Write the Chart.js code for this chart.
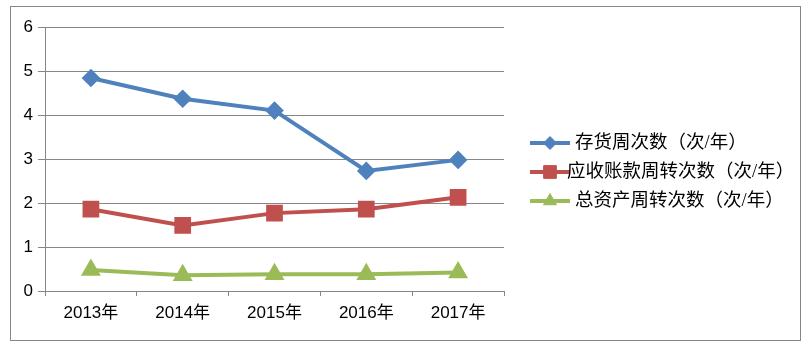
<!DOCTYPE html>
<html>
<head>
<meta charset="utf-8">
<script src="https://cdn.jsdelivr.net/npm/chart.js@4/dist/chart.umd.min.js"></script>
<style>
  html, body { margin: 0; padding: 0; background: #fff; }
  #wrap { width: 805px; height: 347px; }
</style>
</head>
<body>
<div id="wrap"><canvas id="chart" width="805" height="347"></canvas></div>
<script>
const years = ['2013年', '2014年', '2015年', '2016年', '2017年'];
const inventoryTurns = [4.84, 4.37, 4.10, 2.73, 2.98];
const receivableTurns = [1.86, 1.49, 1.77, 1.86, 2.13];
const assetTurns = [0.48, 0.36, 0.38, 0.38, 0.42];
const seriesNames = ['存货周次数（次/年）', '应收账款周转次数（次/年）', '总资产周转次数（次/年）'];

const gridColor = '#868686';
const tickFont = { family: '"Liberation Sans", "Noto Sans CJK SC", sans-serif', size: 17 };

// frame around the whole picture
const framePlugin = {
  id: 'frame',
  beforeDraw(chart) {
    const ctx = chart.ctx;
    ctx.save();
    ctx.strokeStyle = gridColor;
    ctx.lineWidth = 1;
    ctx.strokeRect(10.5, 6.5, 790, 334);
    ctx.restore();
  }
};

// legend on the right: line sample + marker + label
const sideLegend = {
  id: 'sideLegend',
  afterDraw(chart) {
    const ctx = chart.ctx;
    const rowsY = [143, 172, 201];
    const textX = [575, 567, 575];
    ctx.save();
    chart.data.datasets.forEach((ds, i) => {
      const y = rowsY[i];
      ctx.strokeStyle = ds.borderColor;
      ctx.lineWidth = 4;
      ctx.beginPath();
      ctx.moveTo(530, y);
      ctx.lineTo(570, y);
      ctx.stroke();
      ctx.fillStyle = ds.borderColor;
      ctx.lineWidth = 1;
      Chart.helpers.drawPoint(ctx, { pointStyle: ds.pointStyle, radius: ds.pointRadius, borderWidth: 1, rotation: 0 }, 550, y);
      ctx.fillStyle = '#000';
      ctx.font = '18.5px "Liberation Serif", "Noto Sans CJK SC", serif';
      ctx.textBaseline = 'middle';
      ctx.textAlign = 'left';
      ctx.fillText(ds.label, textX[i], y);
    });
    ctx.restore();
  }
};

new Chart(document.getElementById('chart'), {
  type: 'line',
  data: {
    labels: years,
    datasets: [
      { label: seriesNames[0], data: inventoryTurns, borderColor: '#4F81BD', backgroundColor: '#4F81BD',
        pointStyle: 'rectRot', pointRadius: 6.5, borderWidth: 4 },
      { label: seriesNames[1], data: receivableTurns, borderColor: '#C0504D', backgroundColor: '#C0504D',
        pointStyle: 'rect', pointRadius: 9, borderWidth: 4 },
      { label: seriesNames[2], data: assetTurns, borderColor: '#9BBB59', backgroundColor: '#9BBB59',
        pointStyle: 'triangle', pointRadius: 7.5, borderWidth: 4 }
    ]
  },
  options: {
    responsive: false,
    animation: false,
    layout: { padding: { left: 0, right: 301, top: 27, bottom: 0 } },
    plugins: {
      legend: { display: false },
      tooltip: { enabled: false }
    },
    elements: {
      line: { tension: 0 },
      point: { borderWidth: 1 }
    },
    scales: {
      x: {
        offset: true,
        grid: { offset: true, drawOnChartArea: false, drawTicks: true, tickLength: 5, color: gridColor },
        border: { color: gridColor },
        ticks: { color: '#000', font: tickFont, padding: 7, maxRotation: 0 },
        afterFit(scale) { scale.height = 56; }
      },
      y: {
        min: 0,
        max: 6,
        grid: { color: gridColor, tickLength: 7 },
        border: { color: gridColor },
        ticks: { stepSize: 1, color: '#000', font: tickFont, padding: 5 },
        afterFit(scale) { scale.width = 45; }
      }
    }
  },
  plugins: [framePlugin, sideLegend]
});
</script>
</body>
</html>
